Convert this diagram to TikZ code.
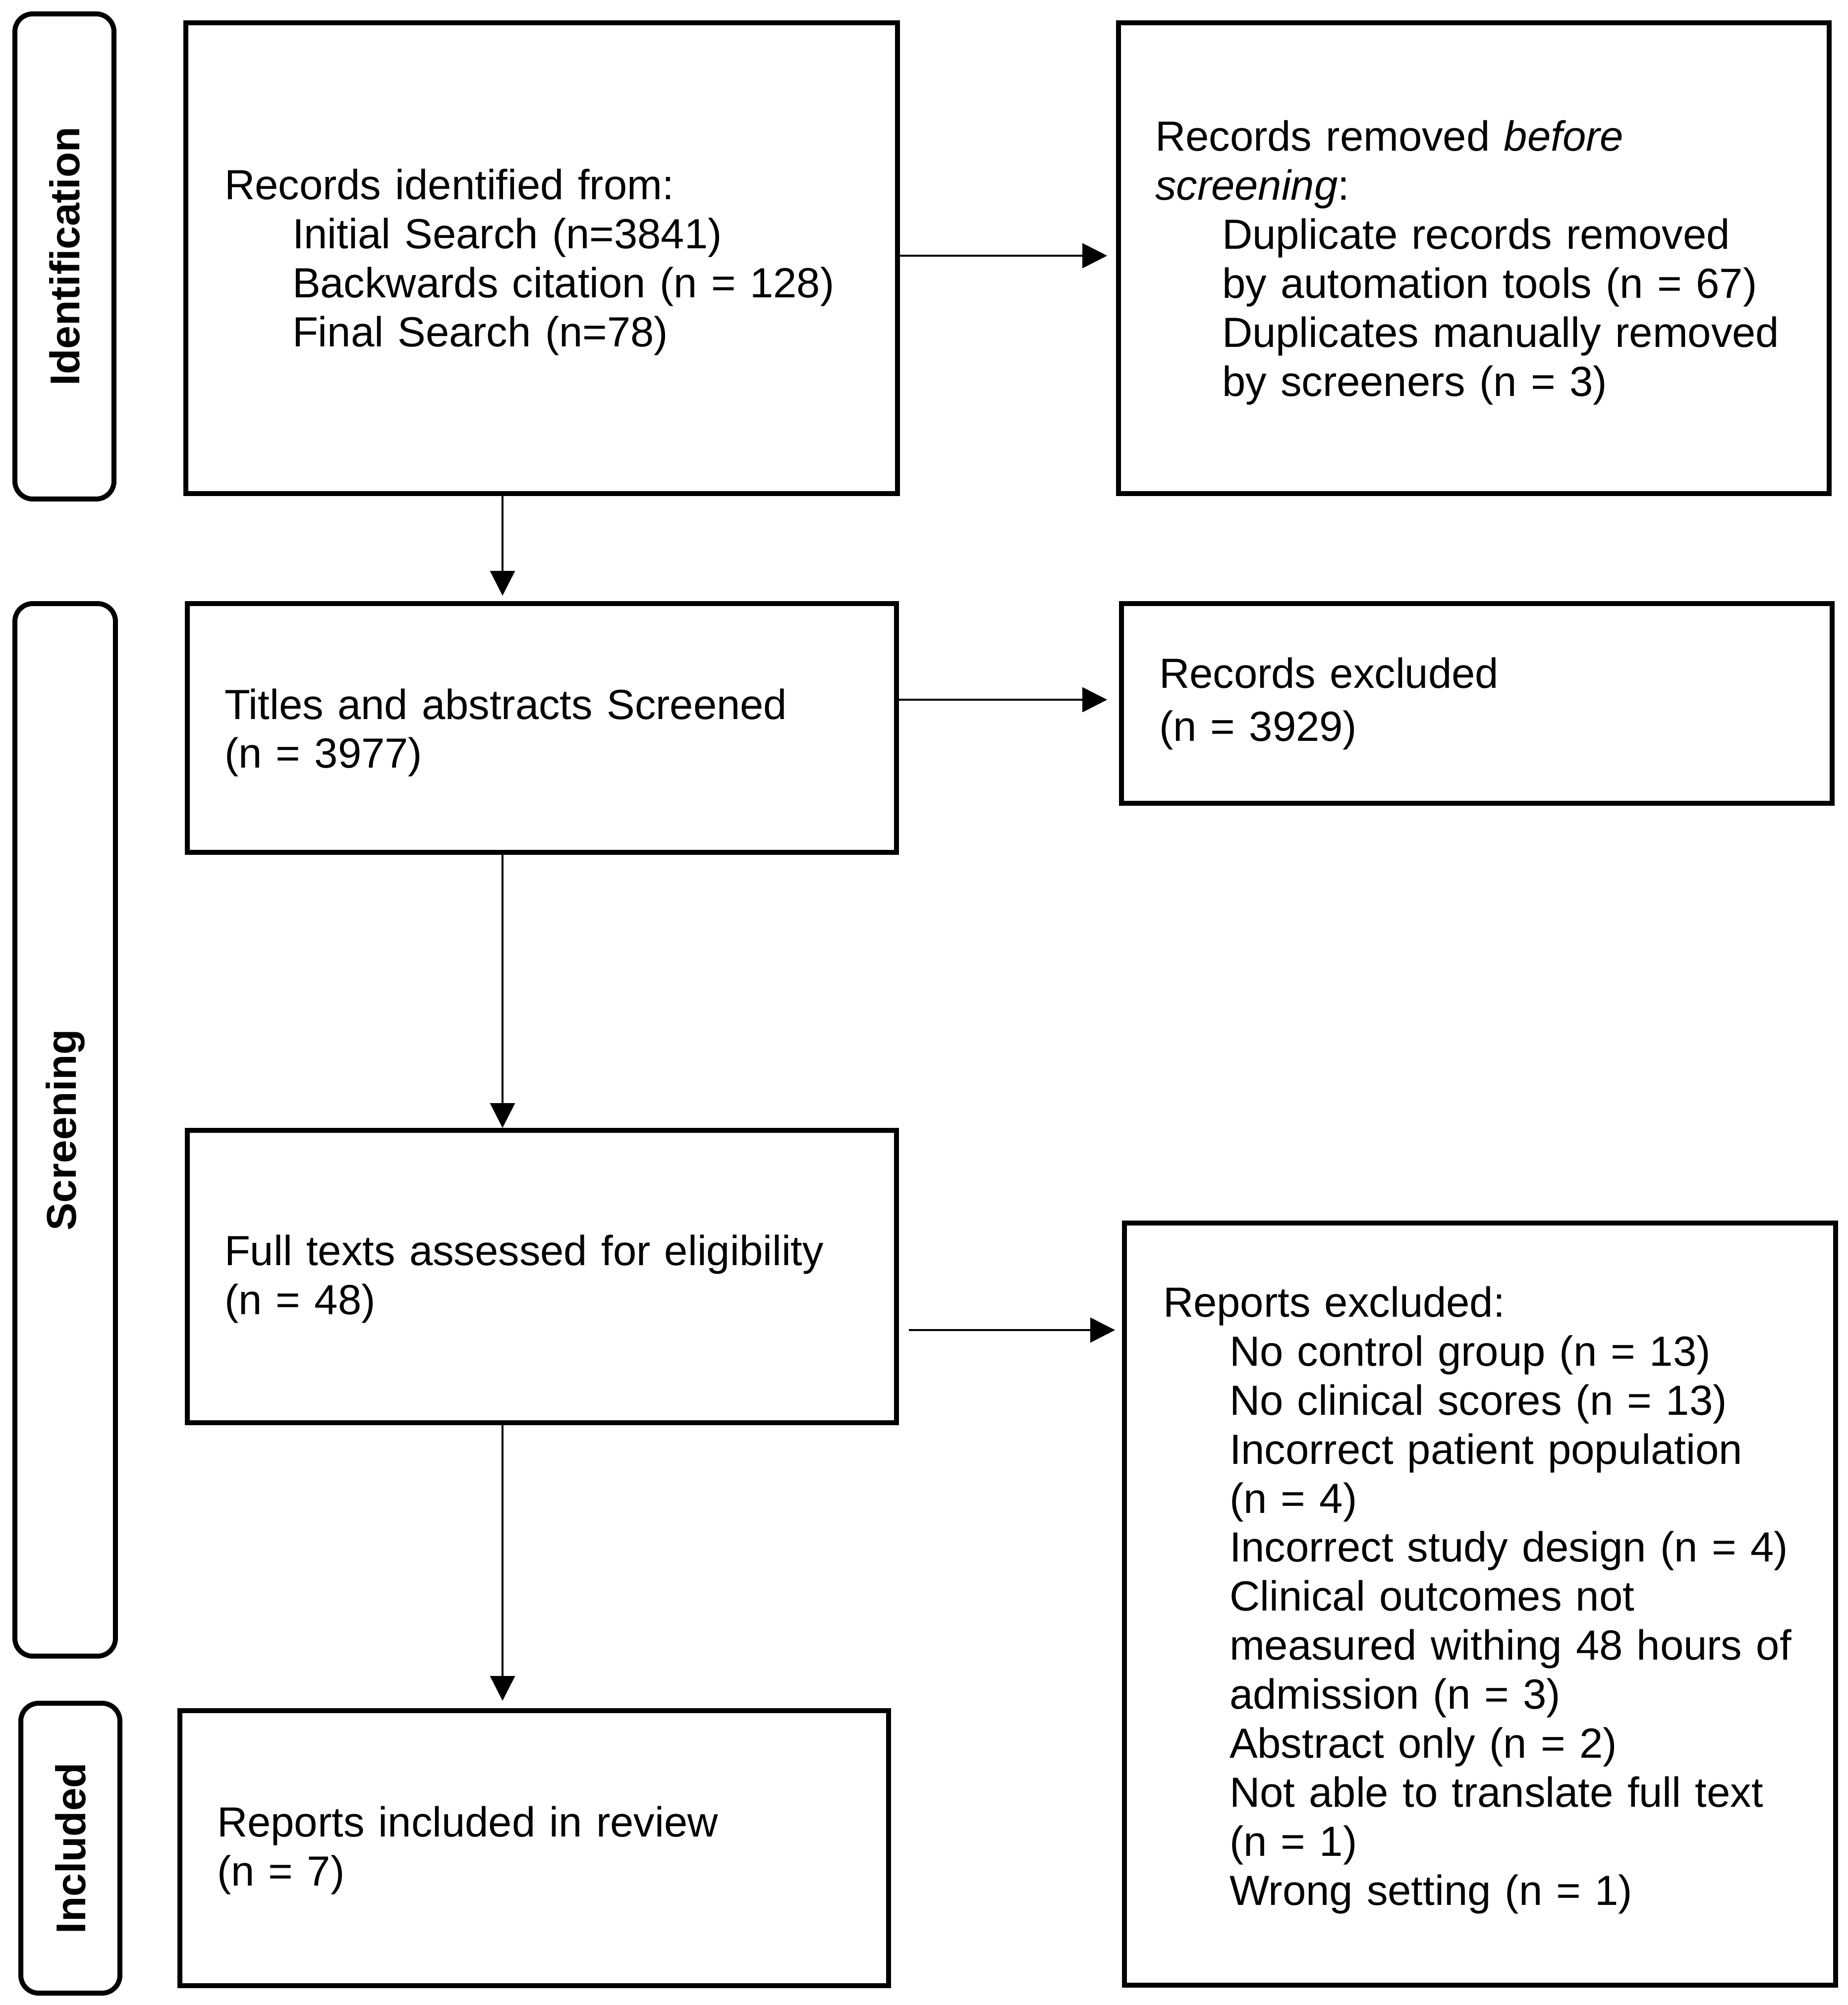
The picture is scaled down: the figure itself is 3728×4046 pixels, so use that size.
\documentclass[tikz,border=0pt]{standalone}
\usepackage{fontspec}
\setmainfont{Liberation Sans}
\usetikzlibrary{arrows.meta}
\begin{document}
\begin{tikzpicture}[x=0.1pt,y=-0.1pt,
  box/.style={draw,line width=1pt,inner sep=0pt},
  lane/.style={draw,line width=1pt,rounded corners=3.6pt,inner sep=0pt,minimum width=20pt},
  lanelabel/.style={rotate=90,font=\fontsize{8.4}{10}\selectfont\bfseries,inner sep=0pt},
  txt/.style={anchor=base west,inner sep=0pt,text width=150pt,align=left,font=\fontsize{8.5}{9.9}\selectfont},
  arr/.style={line width=0.36pt,-{Triangle[length=5pt,width=5pt]}}
]
\path[fill=white] (0,0) rectangle (3728,4046);
\useasboundingbox (0,0) rectangle (3728,4046);

% lanes
\node[lane,minimum height=97.9pt] (L1) at (130,517.5) {};
\node[lane,minimum width=20.3pt,minimum height=212.4pt] (L2) at (131.5,2280) {};
\node[lane,minimum height=58.5pt] (L3) at (142,3729.5) {};
\node[lanelabel] (L1t) at (L1.center) {Identification};
\node[lanelabel] (L2t) at (L2.center) {Screening};
\node[lanelabel] (L3t) at (L3.center) {Included};

% boxes
\node[box,minimum width=143.6pt,minimum height=95pt] (b1) at (1093,521) {};
\node[box,minimum width=143.4pt,minimum height=95pt] (b2) at (2974,521) {};
\node[box,minimum width=143.1pt,minimum height=50.2pt] (b3) at (1093.5,1469) {};
\node[box,minimum width=143.4pt,minimum height=40.3pt] (rex) at (2980,1419.5) {};
\node[box,minimum width=143.1pt,minimum height=59pt] (b4) at (1093.5,2576) {};
\node[box,minimum width=143pt,minimum height=55.5pt] (b5) at (1078,3729.5) {};
\node[box,minimum width=143.5pt,minimum height=153.8pt] (rep) at (2986.5,3237) {};

% texts
\node[txt] (t1) at (451,403) {Records identified from:\\
\hspace*{13.7pt}Initial Search (n=3841)\\
\hspace*{13.7pt}Backwards citation (n = 128)\\
\hspace*{13.7pt}Final Search (n=78)};

\node[txt] (t2) at (2329,305) {Records removed \textit{before}\\
\textit{screening}:\\
\hspace*{13.5pt}Duplicate records removed\\
\hspace*{13.5pt}by automation tools (n = 67)\\
\hspace*{13.5pt}Duplicates manually removed\\
\hspace*{13.5pt}by screeners (n = 3)};

\node[txt] (t3) at (451,1451) {Titles and abstracts Screened\\ (n = 3977)};

\node[txt,font=\fontsize{8.5}{10.8}\selectfont] (t4) at (2337,1388) {Records excluded\\ (n = 3929)};

\node[txt] (t5) at (451,2553) {Full texts assessed for eligibility\\ (n = 48)};

\node[txt] (t6) at (2345,2657) {Reports excluded:\\
\hspace*{13.4pt}No control group (n = 13)\\
\hspace*{13.4pt}No clinical scores (n = 13)\\
\hspace*{13.4pt}Incorrect patient population\\
\hspace*{13.4pt}(n = 4)\\
\hspace*{13.4pt}Incorrect study design (n = 4)\\
\hspace*{13.4pt}Clinical outcomes not\\
\hspace*{13.4pt}measured withing 48 hours of\\
\hspace*{13.4pt}admission (n = 3)\\
\hspace*{13.4pt}Abstract only (n = 2)\\
\hspace*{13.4pt}Not able to translate full text\\
\hspace*{13.4pt}(n = 1)\\
\hspace*{13.4pt}Wrong setting (n = 1)};

\node[txt] (t7) at (436,3706) {Reports included in review\\ (n = 7)};

% horizontal arrows
\coordinate (h1) at ([yshift=0.5pt]b2.west);
\draw[arr,shorten >=1.8pt] (h1 -| b1.east) -- (h1);
\coordinate (h2) at ([yshift=0.75pt]rex.west);
\draw[arr,shorten >=2.4pt] (h2 -| b3.east) -- (h2);
\coordinate (h3) at ([yshift=-10.8pt]b4.east);
\draw[arr,shorten <=2pt,shorten >=1.4pt] (h3) -- (h3 -| rep.west);

% vertical arrows
\coordinate (v1) at ([xshift=-7.9pt]b1.south);
\draw[arr,shorten >=1.1pt] (v1) -- (v1 |- b3.north);
\coordinate (v2) at ([xshift=-7.95pt]b3.south);
\draw[arr] (v2) -- (v2 |- b4.north);
\coordinate (v3) at ([xshift=-7.95pt]b4.south);
\draw[arr,shorten >=1.5pt] (v3) -- (v3 |- b5.north);
\end{tikzpicture}
\end{document}
